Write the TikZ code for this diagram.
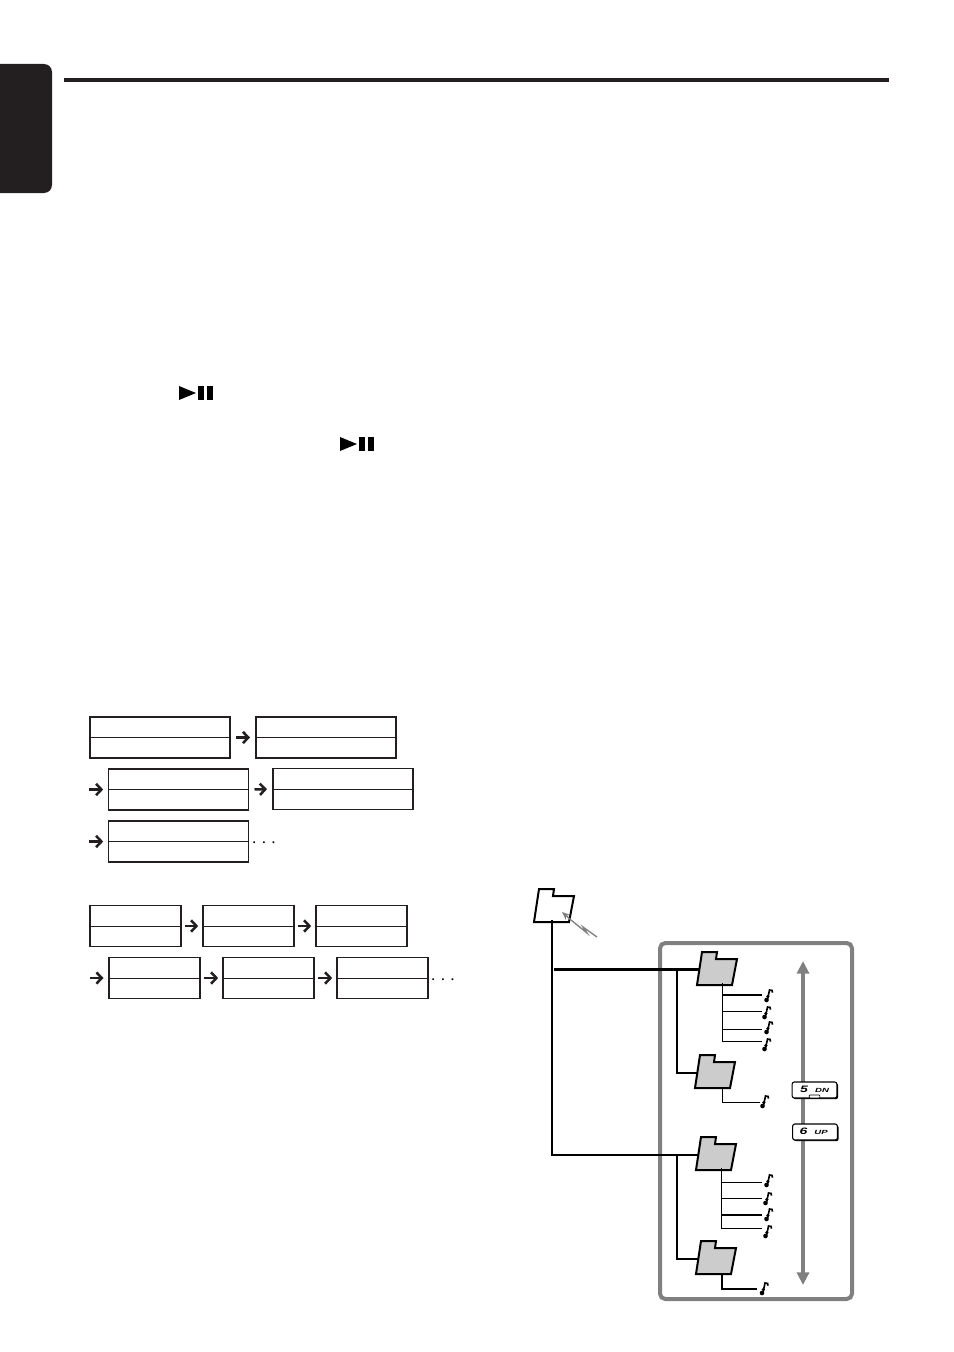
\documentclass[tikz,border=0pt]{standalone}
\usepackage{fontspec}
\setmainfont{Liberation Sans}
\usetikzlibrary{arrows.meta,shadows}

\definecolor{tabblack}{HTML}{231F20}
\definecolor{framegray}{HTML}{808080}
\definecolor{foldergray}{HTML}{CCCCCC}

\tikzset{
    entry/.style={draw=tabblack,line width=1.2pt,inner sep=0pt,outer sep=0pt,minimum height=30.75pt},
    widebox/.style={entry,minimum width=105pt},
    narrowbox/.style={entry,minimum width=68.5pt},
    rowline/.style={draw=tabblack,line width=0.7pt},
    nextarrow/.style={draw=tabblack,line width=1.9pt,-{Straight Barb[length=4pt,width=8.5pt,line width=1.9pt]}},
    rowdots/.style={font=\Large},
    foldermark/.style={inner sep=0pt,outer sep=0pt,minimum width=22.5pt,minimum height=20pt},
    trunk/.style={draw=black,line width=1.5pt},
    trunkthick/.style={draw=black,line width=2.2pt},
    trackline/.style={draw=black,line width=0.75pt},
    trackthick/.style={draw=black,line width=1.6pt},
    keycap/.style={draw=black,fill=white,line width=0.8pt,rounded corners=1.6pt,inner sep=0pt,
        minimum width=33.5pt,minimum height=12pt,
        drop shadow={opacity=1,fill=black,shadow xshift=0.9pt,shadow yshift=-0.9pt}},
    keynum/.style={font=\bfseries\itshape\fontsize{7}{8}\selectfont,xscale=1.5},
    keyname/.style={font=\bfseries\itshape\fontsize{4.5}{6}\selectfont,xscale=1.6},
    tracknote/.pic={
        \fill[black] (-3,5) circle (2.3);
        \fill[black] (-1.6,1.5) circle (1.7);
        \draw[black,line width=1.2pt] (-2,4.5) -- (0,-5) -- (2.6,-4.6) -- (3,-2.4);
    }
}

\newcommand{\folder}[4]{
    \draw[black,line width=1.5pt,line join=miter,fill=#4] (#2,#3) -- (#2+5,#3-33) -- (#2+20,#3-33) -- (#2+19,#3-26)
        -- (#2+40,#3-26) -- (#2+35,#3) -- cycle;
    \node[foldermark] (#1) at (#2+18,#3-15.5) {};
}
\newcommand{\playpause}[2]{
    \fill[black] (#1,#2) -- (#1+17,#2+7) -- (#1,#2+14) -- cycle;
    \fill[black] (#1+19,#2) rectangle (#1+25,#2+14);
    \fill[black] (#1+28,#2) rectangle (#1+34,#2+14);
}

\begin{document}
\begin{tikzpicture}[x=0.75pt,y=-0.75pt]
    \useasboundingbox (0,0) rectangle (953,1352);

    % page furniture
    \fill[tabblack,rounded corners=6pt] (-20,64) rectangle (52,193);
    \fill[tabblack] (64,78) rectangle (889,82);
    \playpause{179}{386}
    \playpause{340}{437}

    % first sequence
    \node[widebox] (boxA) at (160,737.5) {};
    \node[widebox] (boxB) at (326,737.5) {};
    \node[widebox] (boxC) at (178.5,789.5) {};
    \node[widebox] (boxD) at (343,789) {};
    \node[widebox] (boxE) at (178.5,841.5) {};
    \draw[rowline] (boxA.west) -- (boxA.east);
    \draw[rowline] (boxB.west) -- (boxB.east);
    \draw[rowline] (boxC.west) -- (boxC.east);
    \draw[rowline] (boxD.west) -- (boxD.east);
    \draw[rowline] (boxE.west) -- (boxE.east);
    \coordinate (startC) at (89,789.5);
    \coordinate (startE) at (89,841.5);
    \draw[nextarrow,shorten <=4.5pt,shorten >=4.5pt] (boxA.east) -- (boxB.west);
    \draw[nextarrow,shorten >=4pt] (startC) -- (boxC.west);
    \draw[nextarrow,shorten <=4.5pt,shorten >=4.5pt] (boxC.east) -- (boxD.west);
    \draw[nextarrow,shorten >=4pt] (startE) -- (boxE.west);
    \node[rowdots] (dotsA) at (264,843) {${\cdot}\hspace{3.2pt}{\cdot}\hspace{3.2pt}{\cdot}$};

    % second sequence
    \node[narrowbox] (boxF) at (135.5,926) {};
    \node[narrowbox] (boxG) at (248.5,926) {};
    \node[narrowbox] (boxH) at (361.5,926) {};
    \node[narrowbox] (boxI) at (154.5,978) {};
    \node[narrowbox] (boxJ) at (268.5,978) {};
    \node[narrowbox] (boxK) at (382.5,978) {};
    \draw[rowline] (boxF.west) -- (boxF.east);
    \draw[rowline] (boxG.west) -- (boxG.east);
    \draw[rowline] (boxH.west) -- (boxH.east);
    \draw[rowline] (boxI.west) -- (boxI.east);
    \draw[rowline] (boxJ.west) -- (boxJ.east);
    \draw[rowline] (boxK.west) -- (boxK.east);
    \coordinate (startI) at (90,978);
    \draw[nextarrow,shorten <=3pt,shorten >=3.5pt] (boxF.east) -- (boxG.west);
    \draw[nextarrow,shorten <=3pt,shorten >=3.5pt] (boxG.east) -- (boxH.west);
    \draw[nextarrow,shorten >=4pt] (startI) -- (boxI.west);
    \draw[nextarrow,shorten <=3pt,shorten >=3.5pt] (boxI.east) -- (boxJ.west);
    \draw[nextarrow,shorten <=3pt,shorten >=3.5pt] (boxJ.east) -- (boxK.west);
    \node[rowdots] (dotsB) at (443,980) {${\cdot}\hspace{3.2pt}{\cdot}\hspace{3.2pt}{\cdot}$};

    % frame of the folder tree
    \draw[framegray,line width=3pt,rounded corners=4pt] (660,943) rectangle (852,1299);

    % folders
    \folder{root}{534}{922}{white}
    \folder{folderA}{697}{985}{foldergray}
    \folder{folderB}{695}{1088}{foldergray}
    \folder{folderC}{696}{1170}{foldergray}
    \folder{folderD}{696}{1274}{foldergray}

    % folder lines
    \coordinate (rootA) at ([xshift=1.5pt]root.south |- folderA.west);
    \coordinate (branchA) at (677,969.5);
    \coordinate (branchC) at (677,1154.5);
    \draw[trunk] (root.south) |- (folderC.west);
    \draw[trunkthick] (rootA) -- (folderA.west);
    \draw[trunk] (branchA) |- (folderB.west);
    \draw[trunk] (branchC) |- (folderD.west);

    % tracks
    \coordinate (stemA) at ([xshift=5.25pt]folderA.south);
    \coordinate (stemB) at (722,1088);
    \coordinate (stemC) at ([xshift=5.25pt]folderC.south);
    \coordinate (stemD) at (722,1274);
    \coordinate (trackA1) at (762,995);
    \coordinate (trackA2) at (762,1011);
    \coordinate (trackA3) at (762,1029);
    \coordinate (trackA4) at (762,1041);
    \coordinate (trackB1) at (760,1102);
    \coordinate (trackC1) at (762,1182);
    \coordinate (trackC2) at (762,1198);
    \coordinate (trackC3) at (762,1215);
    \coordinate (trackC4) at (762,1228);
    \coordinate (trackD1) at (757,1289);
    \draw[trackline] (stemA) |- (trackA4);
    \draw[trackthick] (stemA |- trackA1) -- (trackA1);
    \draw[trackline] (stemA |- trackA2) -- (trackA2);
    \draw[trackline] (stemA |- trackA3) -- (trackA3);
    \draw[trackline] (stemB) |- (trackB1);
    \draw[trackline] (stemC) |- (trackC4);
    \draw[trackline] (stemC |- trackC1) -- (trackC1);
    \draw[trackline] (stemC |- trackC2) -- (trackC2);
    \draw[trackthick] (stemC |- trackC3) -- (trackC3);
    \draw[trackline,line width=1.1pt] (stemD) |- (trackD1);

    % notes
    \pic at (769.5,995) {tracknote};
    \pic at (767.5,1012) {tracknote};
    \pic at (769.5,1027) {tracknote};
    \pic at (767.5,1044) {tracknote};
    \pic at (765.5,1101) {tracknote};
    \pic at (769.5,1180) {tracknote};
    \pic at (768.5,1198) {tracknote};
    \pic at (769.5,1214) {tracknote};
    \pic at (768.5,1231) {tracknote};
    \pic at (765,1288) {tracknote};

    % up and down
    \coordinate (scrollTop) at (803,961);
    \coordinate (scrollBottom) at (803,1285);
    \draw[framegray,line width=2.6pt,{Triangle[length=9.5pt,width=9pt]}-{Triangle[length=9.5pt,width=9pt]}] (scrollTop) -- (scrollBottom);
    \node[keycap] (keyDown) at (814.5,1090) {};
    \node[keycap] (keyUp) at (815,1132) {};
    \node[keynum] (keyDownNum) at (804,1089.5) {5};
    \node[keyname] (keyDownName) at (822,1090.5) {DN};
    \node[draw=black,fill=white,line width=0.5pt,inner sep=0pt,minimum width=8pt,minimum height=2.2pt,rounded corners=0.5pt] (keyDownBar) at (814.5,1096.5) {};
    \node[keynum] (keyUpNum) at (803.5,1131.5) {6};
    \node[keyname] (keyUpName) at (821,1132.5) {UP};

    % pointer to the root folder
    \coordinate (rootPointer) at (562,912);
    \coordinate (rootTail) at (597,937);
    \draw[framegray,line width=1pt,line join=miter,-{Stealth[length=6pt,width=5pt]}] (rootTail) -- (583,927) -- (587,933) -- (571,920) -- (rootPointer);
\end{tikzpicture}
\end{document}
